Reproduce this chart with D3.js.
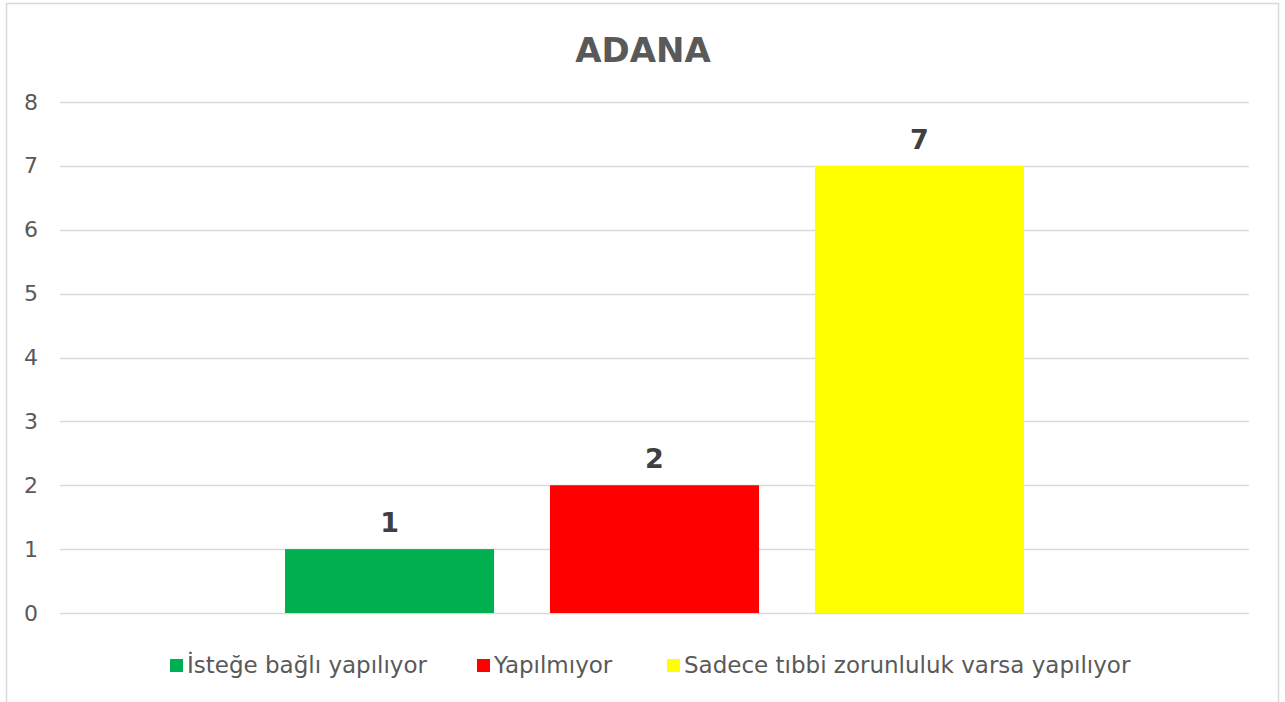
<!DOCTYPE html>
<html>
<head>
<meta charset="utf-8">
<script src="https://cdn.jsdelivr.net/npm/d3@7"></script>
<style>
  body { margin: 0; background: #fff; }
  svg text { font-family: "DejaVu Sans", "Noto Sans", sans-serif; }
</style>
</head>
<body>
<div id="graph"></div>
<script>
// data
let title = 'ADANA'
let category = ['ADANA']
let seriesNames = ['İsteğe bağlı yapılıyor', 'Yapılmıyor', 'Sadece tıbbi zorunluluk varsa yapılıyor']
let seriesValues = [1, 2, 7]
let seriesColors = ['#00b050', '#ff0000', '#ffff00']
let yTicks = [0, 1, 2, 3, 4, 5, 6, 7, 8]

let width = 1285, height = 702
let margin = { top: 102, right: 36, bottom: 89, left: 60 }

let svg = d3.select('#graph')
    .append('svg')
    .attr('width', width)
    .attr('height', height)

// outer frame
svg.append('rect')
    .attr('x', 6.5).attr('y', 3.5)
    .attr('width', 1272).attr('height', 710)
    .attr('fill', '#fff')
    .attr('stroke', '#d9d9d9')
    .attr('stroke-width', 1.5)

let y = d3.scaleLinear()
    .domain([0, 8])
    .range([height - margin.bottom, margin.top])

let x0 = d3.scaleBand()
    .domain(category)
    .range([margin.left, width - margin.right])
    .paddingInner(0)
    .paddingOuter(0.3045)

let x1 = d3.scaleBand()
    .domain(seriesNames)
    .range([0, x0.bandwidth()])
    .paddingInner(0.211)
    .paddingOuter(0)

// gridlines
svg.append('g')
    .selectAll('line')
    .data(yTicks)
    .join('line')
    .attr('x1', margin.left)
    .attr('x2', width - margin.right)
    .attr('y1', d => Math.round(y(d)) + 0.5)
    .attr('y2', d => Math.round(y(d)) + 0.5)
    .attr('stroke', '#d9d9d9')
    .attr('stroke-width', 1.5)

// y axis labels
let yAxis = d3.axisLeft(y).tickValues(yTicks).tickSize(0).tickPadding(0)
svg.append('g')
    .attr('transform', `translate(38,0)`)
    .call(yAxis)
    .call(g => g.select('.domain').remove())
    .selectAll('text')
    .attr('font-size', 22)
    .attr('fill', '#595959')
    .attr('font-family', '"DejaVu Sans", sans-serif')

// bars
let group = svg.append('g')
    .attr('transform', `translate(${x0(category[0])},0)`)

group.selectAll('rect')
    .data(seriesNames)
    .join('rect')
    .attr('x', d => x1(d))
    .attr('width', x1.bandwidth())
    .attr('y', (d, i) => y(seriesValues[i]))
    .attr('height', (d, i) => y(0) - y(seriesValues[i]))
    .attr('fill', (d, i) => seriesColors[i])

// value labels
group.selectAll('text.val')
    .data(seriesNames)
    .join('text')
    .attr('class', 'val')
    .attr('x', d => x1(d) + x1.bandwidth() / 2)
    .attr('y', (d, i) => y(seriesValues[i]) - 17)
    .attr('text-anchor', 'middle')
    .attr('font-size', 27)
    .attr('font-weight', 'bold')
    .attr('fill', '#404040')
    .text((d, i) => seriesValues[i])

// title
svg.append('text')
    .attr('x', 643)
    .attr('y', 62)
    .attr('text-anchor', 'middle')
    .attr('font-size', 34)
    .attr('font-weight', 'bold')
    .attr('fill', '#595959')
    .text(title)

// legend
let legendX = [170, 477, 667]
let legend = svg.append('g')
    .selectAll('g')
    .data(seriesNames)
    .join('g')
    .attr('transform', (d, i) => `translate(${legendX[i]},659)`)

legend.append('rect')
    .attr('width', 13)
    .attr('height', 13)
    .attr('fill', (d, i) => seriesColors[i])

legend.append('text')
    .attr('x', 17)
    .attr('y', 14)
    .attr('font-size', 23)
    .attr('fill', '#595959')
    .text(d => d)
</script>
</body>
</html>
